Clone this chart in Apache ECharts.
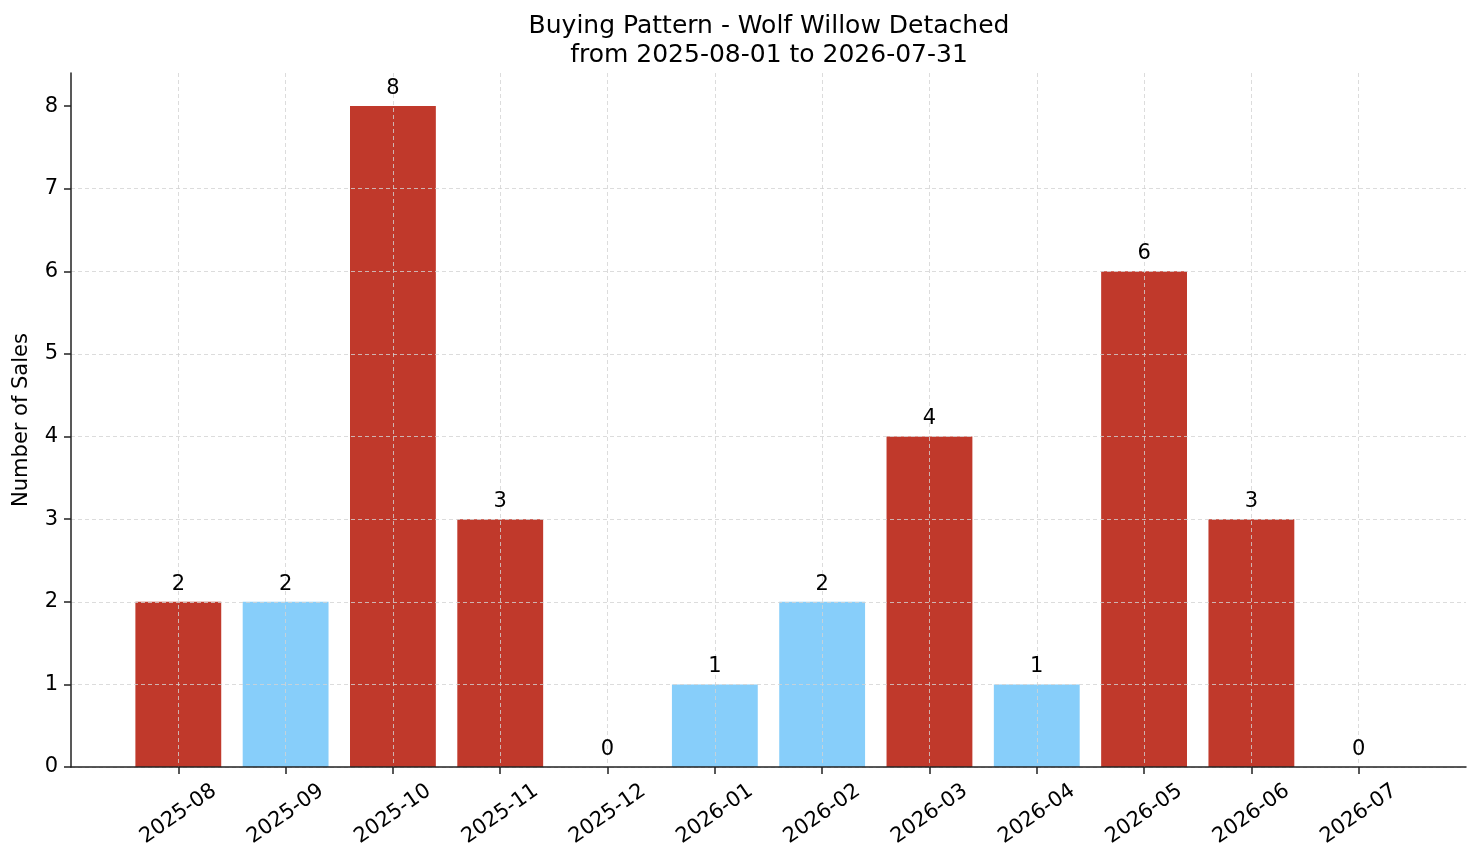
<!DOCTYPE html>
<html>
<head>
<meta charset="utf-8">
<script src="https://cdn.jsdelivr.net/npm/echarts@6/dist/echarts.min.js"></script>
<style>
  html, body { margin: 0; padding: 0; background: #fff; }
  #chart { width: 1481px; height: 863px; }
</style>
</head>
<body>
<div id="chart"></div>
<script>
// months shown on the x axis (blank slots pad each end)
var months = ['', '2025-08', '2025-09', '2025-10', '2025-11', '2025-12', '2026-01',
    '2026-02', '2026-03', '2026-04', '2026-05', '2026-06', '2026-07', ''];
var sales = [null, 2, 2, 8, 3, 0, 1, 2, 4, 1, 6, 3, 0, null];
// true = above-average month (red), false = light blue
var highMonth = [false, true, false, true, true, false, false, false, true, false, true, true, false, false];
var yTicks = [0, 1, 2, 3, 4, 5, 6, 7, 8];

var RED = '#c0392b';
var BLUE = '#87cefa';
var FONT = 'DejaVu Sans';

var myChart = echarts.init(document.getElementById('chart'));

var barData = sales.map(function (v, i) {
    if (v === null) return '-';
    return {
        value: v,
        itemStyle: { color: highMonth[i] ? RED : BLUE }
    };
});
var labelData = sales.map(function (v) {
    return v === null ? '-' : v;
});

function realMonth(idx, val) {
    return val !== '';
}

var gridLine = { color: '#d3d3d3', type: [4, 3], width: 0.8 };

option = {
    animation: false,
    textStyle: { fontFamily: FONT },
    title: {
        text: 'Buying Pattern - Wolf Willow Detached\nfrom 2025-08-01 to 2026-07-31',
        left: 764,
        textAlign: 'center',
        top: 7,
        textStyle: {
            fontFamily: FONT,
            fontSize: 25,
            fontWeight: 'normal',
            color: '#000',
            lineHeight: 29
        }
    },
    grid: {
        left: 71,
        right: 15,
        top: 73,
        bottom: 96,
        containLabel: false
    },
    xAxis: {
        type: 'category',
        data: months,
        boundaryGap: false,
        z: 3,
        axisLine: { lineStyle: { color: '#222', width: 1.5 } },
        axisTick: {
            interval: realMonth,
            length: 7,
            lineStyle: { color: '#222', width: 1.5 }
        },
        axisLabel: {
            interval: realMonth,
            rotate: 35,
            align: 'center',
            verticalAlign: 'middle',
            margin: 47,
            fontFamily: FONT,
            fontSize: 21,
            color: '#000'
        },
        splitLine: {
            show: true,
            interval: realMonth,
            lineStyle: gridLine
        }
    },
    yAxis: {
        type: 'value',
        min: 0,
        max: 8.4,
        interval: 1,
        z: 3,
        name: 'Number of Sales',
        nameLocation: 'middle',
        nameGap: 39,
        nameTextStyle: { fontFamily: FONT, fontSize: 21, color: '#000' },
        axisLine: { show: true, lineStyle: { color: '#222', width: 1.5 } },
        axisTick: {
            show: true,
            length: 7,
            customValues: yTicks,
            lineStyle: { color: '#222', width: 1.5 }
        },
        axisLabel: {
            customValues: yTicks,
            margin: 13,
            fontFamily: FONT,
            fontSize: 21,
            color: '#000'
        },
        splitLine: {
            show: true,
            showMaxLine: false,
            lineStyle: gridLine
        }
    },
    series: [{
        name: 'Sales',
        type: 'bar',
        data: barData,
        barWidth: '80%',
        z: 2
    }, {
        // value labels drawn above the grid lines
        name: 'Labels',
        type: 'bar',
        data: labelData,
        barWidth: '80%',
        barGap: '-100%',
        z: 5,
        silent: true,
        itemStyle: { color: 'rgba(0,0,0,0)' },
        label: {
            show: true,
            position: 'top',
            distance: 7,
            fontFamily: FONT,
            fontSize: 21,
            color: '#000'
        }
    }]
};

myChart.setOption(option);
</script>
</body>
</html>
